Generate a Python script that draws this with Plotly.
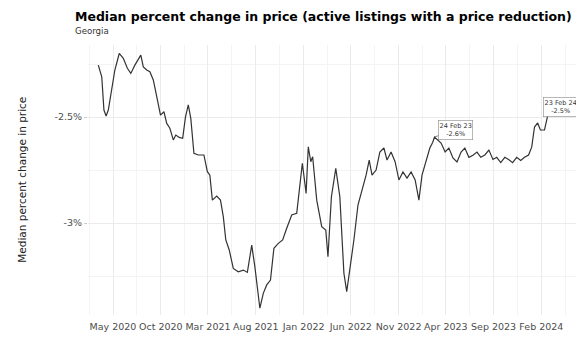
import plotly.graph_objects as go
import pandas as pd

# ---- data ----
dates = [
    "2020-03-15", "2020-03-26", "2020-04-02", "2020-04-09", "2020-04-16", "2020-04-27",
    "2020-05-07", "2020-05-21", "2020-06-03", "2020-06-16", "2020-06-27", "2020-07-10",
    "2020-07-29", "2020-08-06", "2020-08-17", "2020-08-27", "2020-09-07", "2020-09-18",
    "2020-09-30", "2020-10-11", "2020-10-20", "2020-10-30", "2020-11-10", "2020-11-18",
    "2020-11-29", "2020-12-10", "2020-12-19", "2020-12-28", "2021-01-05", "2021-01-15",
    "2021-01-29", "2021-02-16", "2021-02-27", "2021-03-07", "2021-03-15", "2021-03-29",
    "2021-04-10", "2021-04-19", "2021-04-27", "2021-05-08", "2021-05-21", "2021-06-06",
    "2021-06-22", "2021-07-05", "2021-07-19", "2021-07-29", "2021-08-07", "2021-08-14",
    "2021-08-25", "2021-09-05", "2021-09-17", "2021-09-28", "2021-10-12", "2021-10-26",
    "2021-11-08", "2021-11-24", "2021-12-10", "2021-12-28", "2022-01-09", "2022-01-16",
    "2022-01-24", "2022-01-30", "2022-02-12", "2022-02-28", "2022-03-13", "2022-03-20",
    "2022-03-31", "2022-04-14", "2022-04-27", "2022-05-10", "2022-05-19", "2022-05-29",
    "2022-06-11", "2022-06-24", "2022-07-07", "2022-07-20", "2022-07-30", "2022-08-08",
    "2022-08-21", "2022-09-02", "2022-09-15", "2022-09-25", "2022-10-08", "2022-10-21",
    "2022-11-02", "2022-11-15", "2022-11-28", "2022-12-11", "2022-12-24", "2023-01-05",
    "2023-01-15", "2023-01-28", "2023-02-09", "2023-02-18", "2023-02-24", "2023-03-17",
    "2023-03-30", "2023-04-11", "2023-04-24", "2023-05-07", "2023-05-20", "2023-06-01",
    "2023-06-14", "2023-06-27", "2023-07-10", "2023-07-22", "2023-08-04", "2023-08-17",
    "2023-08-30", "2023-09-11", "2023-09-24", "2023-10-07", "2023-10-19", "2023-11-01",
    "2023-11-14", "2023-11-27", "2023-12-09", "2023-12-22", "2024-01-01", "2024-01-10",
    "2024-01-20", "2024-01-29", "2024-02-11", "2024-02-23",
]
values = [
    -2.255, -2.310, -2.467, -2.495, -2.467, -2.373,
    -2.278, -2.200, -2.223, -2.270, -2.294, -2.255,
    -2.208, -2.263, -2.278, -2.286, -2.325, -2.404,
    -2.491, -2.475, -2.530, -2.553, -2.608, -2.585,
    -2.596, -2.600, -2.499, -2.443, -2.506, -2.671,
    -2.679, -2.679, -2.758, -2.774, -2.892, -2.873,
    -2.892, -2.970, -3.080, -3.127, -3.214, -3.230,
    -3.222, -3.233, -3.104, -3.206, -3.332, -3.402,
    -3.332, -3.292, -3.269, -3.119, -3.096, -3.080,
    -3.025, -2.962, -2.954, -2.718, -2.860, -2.640,
    -2.711, -2.687, -2.892, -3.017, -3.033, -3.159,
    -2.876, -2.742, -2.876, -3.237, -3.324, -3.222,
    -3.080, -2.915, -2.844, -2.774, -2.703, -2.774,
    -2.750, -2.665, -2.646, -2.703, -2.665, -2.712,
    -2.797, -2.759, -2.788, -2.759, -2.797, -2.892,
    -2.774, -2.703, -2.646, -2.620, -2.594, -2.623,
    -2.665, -2.646, -2.693, -2.712, -2.665, -2.646,
    -2.690, -2.680, -2.665, -2.690, -2.679, -2.656,
    -2.700, -2.690, -2.715, -2.690, -2.700, -2.715,
    -2.690, -2.705, -2.690, -2.679, -2.642, -2.547,
    -2.528, -2.561, -2.561, -2.481,
]

tick_dates = ["2020-05-01", "2020-10-01", "2021-03-01", "2021-08-01", "2022-01-01",
              "2022-06-01", "2022-11-01", "2023-04-01", "2023-09-01", "2024-02-01"]
tick_labels = ["May 2020", "Oct 2020", "Mar 2021", "Aug 2021", "Jan 2022",
               "Jun 2022", "Nov 2022", "Apr 2023", "Sep 2023", "Feb 2024"]
y_tick_vals = [-2.5, -3.0]
y_tick_labels = ["-2.5%", "-3%"]
y_minor_vals = [-2.25, -2.75, -3.25]

annot_dates = ["2023-02-24", "2024-02-23"]
annot_texts = ["24 Feb 23<br>-2.6%", "23 Feb 24<br>-2.5%"]

title = "Median percent change in price (active listings with a price reduction)"
subtitle = "Georgia"
y_title = "Median percent change in price"

# ---- figure ----
td = pd.to_datetime(tick_dates)
minor_x = [(td[i] + (td[i + 1] - td[i]) / 2) for i in range(len(td) - 1)]
minor_x = [td[0] - (td[1] - td[0]) / 2] + minor_x + [td[-1] + (td[-1] - td[-2]) / 2]

FONT = "DejaVu Sans"
fig = go.Figure()
fig.add_trace(go.Scatter(
    x=dates, y=values, mode="lines",
    line=dict(color="#333333", width=1.2),
    hoverinfo="skip", showlegend=False,
))

date_to_val = dict(zip(dates, values))
offsets = [(21, -7), (12, -6)]
for d, t, (ax, ay) in zip(annot_dates, annot_texts, offsets):
    fig.add_annotation(
        x=d, y=date_to_val[d], text=t, showarrow=True, arrowhead=0,
        arrowwidth=0.8, arrowcolor="#666666", ax=ax, ay=ay,
        xanchor="center", yanchor="middle",
        font=dict(family=FONT, size=6.5, color="#333333"),
        bgcolor="white", bordercolor="#888888", borderwidth=0.6, borderpad=1,
    )

fig.add_annotation(xref="paper", yref="paper", x=-0.031, y=1.105,
                   xanchor="left", yanchor="middle", showarrow=False,
                   text="<b>" + title + "</b>",
                   font=dict(family=FONT, size=12.5, color="#000000"))
fig.add_annotation(xref="paper", yref="paper", x=-0.031, y=1.050,
                   xanchor="left", yanchor="middle", showarrow=False,
                   text=subtitle,
                   font=dict(family=FONT, size=8.6, color="#333333"))
fig.add_annotation(xref="paper", yref="paper", x=-0.134, y=0.5,
                   xanchor="center", yanchor="middle", showarrow=False,
                   textangle=-90, text=y_title,
                   font=dict(family=FONT, size=10.5, color="#222222"))

# page body has an 8px default margin, so margins are offset to compensate
fig.update_layout(
    width=584, height=339,
    margin=dict(l=80, r=10, t=37, b=32),
    paper_bgcolor="white", plot_bgcolor="white",
    font=dict(family=FONT),
    xaxis=dict(
        type="date", range=["2020-02-11", "2024-06-10"],
        tickmode="array", tickvals=tick_dates, ticktext=tick_labels,
        tickfont=dict(family=FONT, size=9.5, color="#4d4d4d"),
        ticklabelstandoff=4,
        showgrid=True, gridcolor="#ebebeb", gridwidth=0.8,
        ticks="", zeroline=False, showline=False,
        minor=dict(tickmode="array", tickvals=minor_x, showgrid=True,
                   gridcolor="#f4f4f4", gridwidth=0.6),
    ),
    yaxis=dict(
        range=[-3.434, -2.160],
        tickmode="array", tickvals=y_tick_vals, ticktext=y_tick_labels,
        tickfont=dict(family=FONT, size=9.5, color="#4d4d4d"),
        showgrid=True, gridcolor="#ebebeb", gridwidth=0.8,
        ticks="outside", ticklen=3, tickcolor="#cccccc",
        zeroline=False, showline=False,
        minor=dict(tickmode="array", tickvals=y_minor_vals, showgrid=True,
                   gridcolor="#f4f4f4", gridwidth=0.6),
    ),
)

fig.write_html("out.html")
